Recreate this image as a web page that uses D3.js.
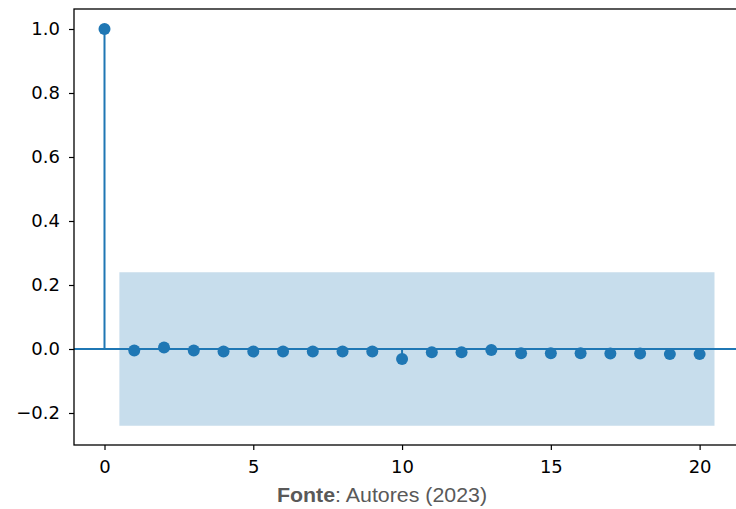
<!DOCTYPE html>
<html lang="pt">
<head>
<meta charset="UTF-8">
<title>ACF</title>
<style>
  body { margin: 0; background: #fff; }
  svg { display: block; }
</style>
</head>
<body>
<script src="https://d3js.org/d3.v7.min.js"></script>
<div id="chart"></div>
<script>
// lags and autocorrelation values
const lags = [0, 1, 2, 3, 4, 5, 6, 7, 8, 9, 10, 11, 12, 13, 14, 15, 16, 17, 18, 19, 20];
const acf = [1.0, -0.005, 0.005, -0.005, -0.008, -0.008, -0.008, -0.008, -0.008, -0.008, -0.031,
             -0.010, -0.010, -0.003, -0.013, -0.013, -0.013, -0.014, -0.014, -0.016, -0.016];
// confidence band (lags 1..20)
const bandLags = [1, 2, 3, 4, 5, 6, 7, 8, 9, 10, 11, 12, 13, 14, 15, 16, 17, 18, 19, 20];
const bandUpper = [0.24, 0.24, 0.24, 0.24, 0.24, 0.24, 0.24, 0.24, 0.24, 0.24,
                   0.24, 0.24, 0.24, 0.24, 0.24, 0.24, 0.24, 0.24, 0.24, 0.24];
const bandLower = [-0.24, -0.24, -0.24, -0.24, -0.24, -0.24, -0.24, -0.24, -0.24, -0.24,
                   -0.24, -0.24, -0.24, -0.24, -0.24, -0.24, -0.24, -0.24, -0.24, -0.24];
const yTicks = [-0.2, 0.0, 0.2, 0.4, 0.6, 0.8, 1.0];
const xTicks = [0, 5, 10, 15, 20];
const caption = "Autores (2023)";

const width = 736, height = 509;
const plot = { left: 74, top: 9, right: 745, bottom: 445 };
const blue = "#1f77b4";

const svg = d3.select("#chart").append("svg").attr("width", width).attr("height", height);

const x = d3.scaleLinear().domain([-1.025, 21.525]).range([plot.left, plot.right]);
const y = d3.scaleLinear().domain([-0.3, 1.0625]).range([plot.bottom, plot.top]);

// confidence band: ends stretched half a lag each side, like statsmodels does
const bandX = bandLags.map((d, i) => i === 0 ? d - 0.5 : (i === bandLags.length - 1 ? d + 0.5 : d));
const area = d3.area()
  .x((d, i) => x(bandX[i]))
  .y0((d, i) => y(bandLower[i]))
  .y1((d, i) => y(bandUpper[i]));
svg.append("path").attr("d", area(bandLags))
  .attr("fill", blue).attr("fill-opacity", 0.25);

// zero line
svg.append("line")
  .attr("x1", plot.left).attr("x2", plot.right)
  .attr("y1", y(0)).attr("y2", y(0))
  .attr("stroke", blue).attr("stroke-width", 2);

// stems
svg.append("g").selectAll("line").data(lags).join("line")
  .attr("x1", d => x(d)).attr("x2", d => x(d))
  .attr("y1", y(0)).attr("y2", (d, i) => y(acf[i]))
  .attr("stroke", blue).attr("stroke-width", 2);

// markers
svg.append("g").selectAll("circle").data(lags).join("circle")
  .attr("cx", d => x(d)).attr("cy", (d, i) => y(acf[i]))
  .attr("r", 6).attr("fill", blue);

// axes
const fmtY = d => d3.format(".1f")(d).replace("-", "\u2212");
const gy = svg.append("g").attr("transform", `translate(${plot.left},0)`)
  .call(d3.axisLeft(y).tickValues(yTicks).tickFormat(fmtY).tickSize(5).tickPadding(9));
const gx = svg.append("g").attr("transform", `translate(0,${plot.bottom})`)
  .call(d3.axisBottom(x).tickValues(xTicks).tickSize(5).tickPadding(10));
[gx, gy].forEach(g => {
  g.select(".domain").remove();
  g.selectAll(".tick line").attr("stroke", "#000").attr("stroke-width", 1.2);
  g.selectAll("text").attr("fill", "#000").style("font-family", "DejaVu Sans").style("font-size", "18px");
});

// spines
svg.append("rect")
  .attr("x", plot.left).attr("y", plot.top)
  .attr("width", plot.right - plot.left).attr("height", plot.bottom - plot.top)
  .attr("fill", "none").attr("stroke", "#000").attr("stroke-width", 1.3);

// caption
const cap = svg.append("text")
  .attr("x", 382).attr("y", 502)
  .attr("text-anchor", "middle")
  .attr("fill", "#595959")
  .style("font-family", "Liberation Sans, Arial, sans-serif")
  .style("font-size", "21px")
  .attr("textLength", 210).attr("lengthAdjust", "spacingAndGlyphs");
cap.append("tspan").attr("font-weight", "bold").text("Fonte");
cap.append("tspan").text(": " + caption);
</script>
</body>
</html>
